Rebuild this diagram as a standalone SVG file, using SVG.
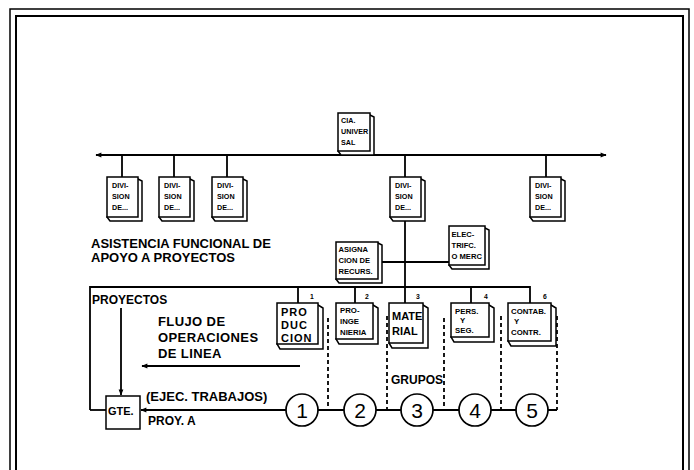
<svg xmlns="http://www.w3.org/2000/svg" width="694" height="470" viewBox="0 0 694 470">
<defs>
<style>
.ln{stroke:#000;stroke-width:1.8;fill:none}
.dash{stroke:#000;stroke-width:1.8;stroke-dasharray:4 3;fill:none}
.fr{stroke:#000;fill:none}
.bx{fill:#fff;stroke:#000;stroke-width:1.5}
.t{font-family:"Liberation Sans",Arial,sans-serif;font-weight:bold;fill:#000}
.s6{font-size:6.8px}
.s7{font-size:7.2px}
.s75{font-size:7.6px}
.s8{font-size:7.8px}
.s11{font-size:11px}
.s12{font-size:12px}
.s13{font-size:13px}
.num{font-family:"Liberation Sans",Arial,sans-serif;font-size:21px;fill:#000;text-anchor:middle}
.cir{fill:#fff;stroke:#000;stroke-width:1.7}
</style>
<marker id="ah" viewBox="0 0 10 10" refX="9" refY="5" markerWidth="7" markerHeight="6" markerUnits="userSpaceOnUse" orient="auto-start-reverse">
<path d="M0,1 L10,5 L0,9 z" fill="#000"/>
</marker>
</defs>
<rect width="694" height="470" fill="#fff"/>
<!-- frame -->
<path class="fr" stroke-width="1.5" d="M10,475 V9 H689 V475"/>
<path class="fr" stroke-width="2" d="M16,475 V16 H683 V475"/>

<g id="connectors">
<path class="ln" d="M355,151 V155"/>
<path class="ln" d="M96,155 H606" marker-start="url(#ah)" marker-end="url(#ah)"/>
<path class="ln" d="M122,155 V177 M174,155 V177 M227,155 V177 M405,155 V177 M546,155 V177"/>
<path class="ln" d="M405,217 V303"/>
<path class="ln" d="M378,262 H449"/>
<path class="ln" d="M90,410 V287 H530 V303 M298,287 V303 M355,287 V303 M471,287 V303"/>
<path class="ln" d="M90,410 H106"/>
<path class="ln" d="M121,308 V395" marker-end="url(#ah)"/>
<path class="ln" d="M300,366 H142" marker-end="url(#ah)"/>
<path class="ln" d="M286,410 H141" marker-end="url(#ah)"/>
<path class="ln" d="M318,410 H344 M376,410 H401 M433,410 H459 M491,410 H516 M548,410 H557"/>
<path class="dash" d="M328,318 V410 M387,316 V410 M444,318 V410 M501,316 V410 M557,316 V410"/>
</g>

<g id="cia">
<path class="bx" d="M370,115 L374,117 L374,155 L341,155 L338,151 Z"/>
<rect class="bx" x="338" y="113" width="32" height="38"/>
<text class="t s7" x="341" y="123">CIA.</text>
<text class="t s7" x="341" y="134">UNIVER</text>
<text class="t s7" x="341" y="145">SAL</text>
</g>

<g id="div1">
<path class="bx" d="M138,179 L142,181 L142,221 L110,221 L107,217 Z"/>
<rect class="bx" x="107" y="177" width="31" height="40"/>
<text class="t s7" x="112" y="188">DIVI-</text>
<text class="t s7" x="112" y="199">SION</text>
<text class="t s7" x="112" y="210">DE...</text>
</g>
<g id="div2">
<path class="bx" d="M190,179 L194,181 L194,221 L162,221 L159,217 Z"/>
<rect class="bx" x="159" y="177" width="31" height="40"/>
<text class="t s7" x="164" y="188">DIVI-</text>
<text class="t s7" x="164" y="199">SION</text>
<text class="t s7" x="164" y="210">DE...</text>
</g>
<g id="div3">
<path class="bx" d="M243,179 L247,181 L247,221 L215,221 L212,217 Z"/>
<rect class="bx" x="212" y="177" width="31" height="40"/>
<text class="t s7" x="217" y="188">DIVI-</text>
<text class="t s7" x="217" y="199">SION</text>
<text class="t s7" x="217" y="210">DE...</text>
</g>
<g id="div4">
<path class="bx" d="M421,179 L425,181 L425,221 L393,221 L390,217 Z"/>
<rect class="bx" x="390" y="177" width="31" height="40"/>
<text class="t s7" x="395" y="188">DIVI-</text>
<text class="t s7" x="395" y="199">SION</text>
<text class="t s7" x="395" y="210">DE...</text>
</g>
<g id="div5">
<path class="bx" d="M561,179 L565,181 L565,221 L533,221 L530,217 Z"/>
<rect class="bx" x="530" y="177" width="31" height="40"/>
<text class="t s7" x="535" y="188">DIVI-</text>
<text class="t s7" x="535" y="199">SION</text>
<text class="t s7" x="535" y="210">DE...</text>
</g>

<g id="asignacion">
<path class="bx" d="M378,243 L382,245 L382,283 L339,283 L336,279 Z"/>
<rect class="bx" x="336" y="242" width="42" height="37"/>
<text class="t s75" x="338.5" y="252">ASIGNA</text>
<text class="t s75" x="338.5" y="263">CION DE</text>
<text class="t s75" x="338.5" y="274">RECURS.</text>
</g>
<g id="electrificacion">
<path class="bx" d="M485,228 L489,230 L489,269 L452,269 L449,265 Z"/>
<rect class="bx" x="449" y="226" width="36" height="39"/>
<text class="t s75" x="451.5" y="237">ELEC-</text>
<text class="t s75" x="451.5" y="248">TRIFC.</text>
<text class="t s75" x="451.5" y="259">O MERC</text>
</g>

<g id="texts">
<text class="t s13" x="91" y="248">ASISTENCIA FUNCIONAL DE</text>
<text class="t s13" x="91" y="262">APOYO A PROYECTOS</text>
<text class="t s12" x="92" y="304">PROYECTOS</text>
<text class="t s13" x="158" y="326" letter-spacing="0.4">FLUJO DE</text>
<text class="t s13" x="158" y="342" letter-spacing="0.4">OPERACIONES</text>
<text class="t s13" x="158" y="358" letter-spacing="0.4">DE LINEA</text>
<text class="t s13" x="146" y="401">(EJEC. TRABAJOS)</text>
<text class="t s12" x="148" y="425">PROY. A</text>
<text class="t s12" x="391" y="384">GRUPOS</text>
</g>

<g id="gte">
<rect class="bx" x="106" y="396" width="34" height="33"/>
<text class="t s11" x="108" y="415">GTE.</text>
</g>

<g id="produccion">
<path class="bx" d="M318,305 L323,308 L323,349 L280,349 L277,344 Z"/>
<rect class="bx" x="277" y="303" width="41" height="41"/>
<text class="t s11" x="281" y="316" letter-spacing="1">PRO</text>
<text class="t s11" x="281" y="329" letter-spacing="1">DUC</text>
<text class="t s11" x="281" y="342" letter-spacing="1">CION</text>
<text class="t s6" x="310" y="299">1</text>
</g>
<g id="proingenieria">
<path class="bx" d="M373,305 L378,308 L378,344 L339,344 L336,339 Z"/>
<rect class="bx" x="336" y="303" width="37" height="36"/>
<text class="t s8" x="340" y="313">PRO-</text>
<text class="t s8" x="340" y="324">INGE</text>
<text class="t s8" x="340" y="335">NIERIA</text>
<text class="t s6" x="365" y="299">2</text>
</g>
<g id="material">
<path class="bx" d="M423,305 L428,308 L428,348 L392,348 L389,343 Z"/>
<rect class="bx" x="389" y="303" width="34" height="40"/>
<text class="t s11" x="392" y="320">MATE</text>
<text class="t s11" x="392" y="335">RIAL</text>
<text class="t s6" x="416" y="299">3</text>
</g>
<g id="personal">
<path class="bx" d="M489,305 L494,308 L494,342 L454,342 L451,337 Z"/>
<rect class="bx" x="451" y="303" width="38" height="34"/>
<text class="t s8" x="455" y="314">PERS.</text>
<text class="t s8" x="460" y="323">Y</text>
<text class="t s8" x="455" y="333">SEG.</text>
<text class="t s6" x="484" y="299">4</text>
</g>
<g id="contabilidad">
<path class="bx" d="M551,305 L556,308 L556,346 L511,346 L508,341 Z"/>
<rect class="bx" x="508" y="303" width="43" height="38"/>
<text class="t s8" x="511" y="314">CONTAB.</text>
<text class="t s8" x="514" y="324">Y</text>
<text class="t s8" x="511" y="335">CONTR.</text>
<text class="t s6" x="543" y="299">6</text>
</g>

<g id="c1"><circle class="cir" cx="302" cy="410" r="16"/><text class="num" x="302" y="418">1</text></g>
<g id="c2"><circle class="cir" cx="360" cy="410" r="16"/><text class="num" x="360" y="418">2</text></g>
<g id="c3"><circle class="cir" cx="417" cy="410" r="16"/><text class="num" x="417" y="418">3</text></g>
<g id="c4"><circle class="cir" cx="475" cy="410" r="16"/><text class="num" x="475" y="418">4</text></g>
<g id="c5"><circle class="cir" cx="532" cy="410" r="16"/><text class="num" x="532" y="418">5</text></g>
</svg>
